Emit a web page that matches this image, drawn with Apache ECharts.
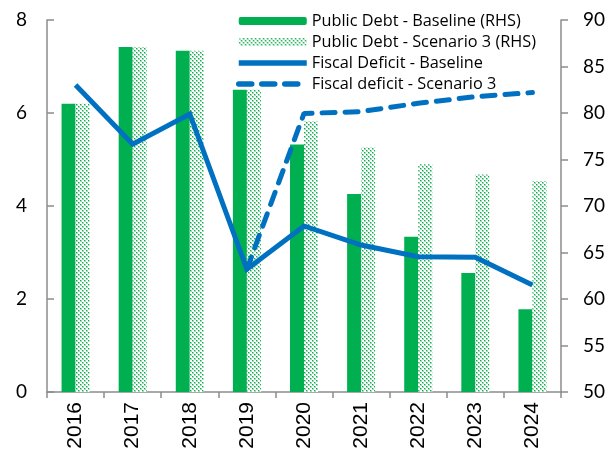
<!DOCTYPE html>
<html>
<head>
<meta charset="utf-8">
<script src="https://cdn.jsdelivr.net/npm/echarts@6/dist/echarts.min.js"></script>
<style>html,body{margin:0;padding:0;background:#fff;}#c{width:615px;height:459px;}</style>
</head>
<body>
<div id="c"></div>
<script>
var years = ['2016','2017','2018','2019','2020','2021','2022','2023','2024'];
var debtBaseline = [81.0, 87.1, 86.7, 82.5, 76.6, 71.3, 66.7, 62.8, 58.9];
var debtScenario3 = [81.0, 87.1, 86.7, 82.5, 79.1, 76.3, 74.5, 73.4, 72.7];
var deficitBaseline = [6.6, 5.33, 5.98, 2.64, 3.57, 3.16, 2.91, 2.90, 2.30];
var deficitScenario3 = [null, null, null, 2.64, 5.99, 6.03, 6.21, 6.35, 6.44];
var leftTicks = [0, 8, 2];
var rightTicks = [50, 90, 5];

function makePattern() {
  var cv = document.createElement('canvas');
  cv.width = 4; cv.height = 4;
  var ctx = cv.getContext('2d');
  ctx.fillStyle = '#ffffff';
  ctx.fillRect(0, 0, 4, 4);
  ctx.fillStyle = '#9fdcb3';
  ctx.fillRect(0, 0, 2, 2);
  ctx.fillRect(2, 2, 2, 2);
  ctx.fillStyle = '#00b050';
  ctx.fillRect(0, 0, 1, 1);
  ctx.fillRect(2, 2, 1, 1);
  return cv;
}
var pat = { image: makePattern(), repeat: 'repeat' };

var chart = echarts.init(document.getElementById('c'), null, {renderer: 'canvas'});
var axisGray = '#8c8c8c';
chart.setOption({
  animation: false,
  backgroundColor: '#ffffff',
  grid: { left: 47, right: 54, top: 20, bottom: 67 },
  legend: {
    orient: 'vertical',
    left: 236, top: 13, padding: 0,
    itemWidth: 68, itemHeight: 8, itemGap: 5,
    textStyle: { fontFamily: 'Open Sans', fontSize: 16.3, color: '#000' },
    lineStyle: { width: 5.5 },
    data: [
      'Public Debt - Baseline (RHS)',
      'Public Debt - Scenario 3 (RHS)',
      { name: 'Fiscal Deficit - Baseline', itemStyle: { opacity: 0 } },
      { name: 'Fiscal deficit - Scenario 3', itemStyle: { opacity: 0 } }
    ]
  },
  xAxis: {
    type: 'category',
    data: years,
    axisLine: { lineStyle: { color: axisGray, width: 1.5 } },
    axisTick: { show: true, inside: false, length: 6, lineStyle: { color: axisGray, width: 1.5 } },
    axisLabel: { rotate: 90, margin: 10, fontFamily: 'Liberation Sans', fontSize: 21, color: '#000' }
  },
  yAxis: [
    {
      type: 'value', min: leftTicks[0], max: leftTicks[1], interval: leftTicks[2], position: 'left',
      axisLine: { show: true, lineStyle: { color: axisGray, width: 1.5 } },
      axisTick: { show: true, inside: true, length: 7, lineStyle: { color: axisGray, width: 1.5 } },
      splitLine: { show: false },
      axisLabel: { margin: 20, fontFamily: 'Lato', fontSize: 19, color: '#000' }
    },
    {
      type: 'value', min: rightTicks[0], max: rightTicks[1], interval: rightTicks[2], position: 'right',
      axisLine: { show: true, lineStyle: { color: axisGray, width: 1.5 } },
      axisTick: { show: true, inside: false, length: 7, lineStyle: { color: axisGray, width: 1.5 } },
      splitLine: { show: false },
      axisLabel: { margin: 22, fontFamily: 'Lato', fontSize: 19, color: '#000' }
    }
  ],
  series: [
    {
      name: 'Public Debt - Baseline (RHS)', type: 'bar', yAxisIndex: 1,
      data: debtBaseline, barWidth: 14, barGap: '0%',
      itemStyle: { color: '#00b050' }
    },
    {
      name: 'Public Debt - Scenario 3 (RHS)', type: 'bar', yAxisIndex: 1,
      data: debtScenario3, barWidth: 14, barGap: '0%',
      itemStyle: { color: pat }
    },
    {
      name: 'Fiscal Deficit - Baseline', type: 'line', yAxisIndex: 0,
      data: deficitBaseline, symbol: 'none', z: 5,
      lineStyle: { color: '#0070c0', width: 5, join: 'miter' },
      itemStyle: { color: '#0070c0' }
    },
    {
      name: 'Fiscal deficit - Scenario 3', type: 'line', yAxisIndex: 0,
      data: deficitScenario3, symbol: 'none', z: 4,
      lineStyle: { color: '#0070c0', width: 5, type: [13, 10], cap: 'round' },
      itemStyle: { color: '#0070c0' }
    }
  ]
});
</script>
</body>
</html>
